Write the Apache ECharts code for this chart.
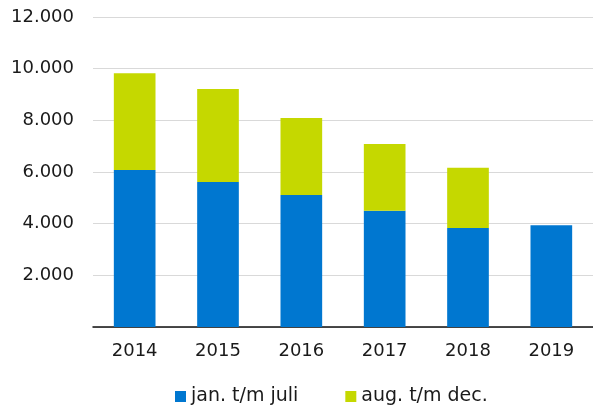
<!DOCTYPE html>
<html>
<head>
<meta charset="utf-8">
<script src="https://cdn.jsdelivr.net/npm/echarts@6/dist/echarts.min.js"></script>
<style>
  html, body { margin: 0; padding: 0; background: #fff; }
  #chart { width: 593px; height: 407px; }
</style>
</head>
<body>
<div id="chart"></div>
<script>
  var years = ['2014', '2015', '2016', '2017', '2018', '2019'];
  var janJuli = [6080, 5610, 5110, 4500, 3830, 3940];   // jan. t/m juli
  var augDec = [3740, 3600, 2980, 2580, 2330, null];    // aug. t/m dec.
  var yTicks = [0, 2000, 4000, 6000, 8000, 10000, 12000];

  var font = "'DejaVu Sans', Verdana, sans-serif";

  function fmt(v) {
    if (v === 0) return '';
    return String(v).replace(/\B(?=(\d{3})+(?!\d))/g, '.');
  }

  var myChart = echarts.init(document.getElementById('chart'));
  var option = {
    animation: false,
    backgroundColor: '#fff',
    grid: {
      left: 93,
      right: 0,
      top: 17,
      bottom: 80
    },
    legend: {
      left: 170,
      top: 382,
      itemWidth: 11,
      itemHeight: 11,
      itemGap: 47,
      icon: 'rect',
      textStyle: { color: '#1a1a1a', fontSize: 19, fontFamily: font }
    },
    xAxis: {
      type: 'category',
      data: years,
      axisTick: { show: false },
      axisLine: { lineStyle: { color: '#111', width: 1.5 } },
      axisLabel: { color: '#1a1a1a', fontSize: 18, fontFamily: font, margin: 15 }
    },
    yAxis: {
      type: 'value',
      min: yTicks[0],
      max: yTicks[yTicks.length - 1],
      interval: 2000,
      axisLine: { show: false },
      axisTick: { show: false },
      splitLine: { lineStyle: { color: '#d9d9d9', width: 1 } },
      axisLabel: { color: '#1a1a1a', fontSize: 18, fontFamily: font, margin: 19, formatter: fmt }
    },
    series: [
      {
        name: 'jan. t/m juli',
        type: 'bar',
        stack: 'total',
        barWidth: '50%',
        itemStyle: { color: '#0077d0' },
        data: janJuli
      },
      {
        name: 'aug. t/m dec.',
        type: 'bar',
        stack: 'total',
        barWidth: '50%',
        itemStyle: { color: '#c5d800' },
        data: augDec
      }
    ]
  };
  myChart.setOption(option);
</script>
</body>
</html>
